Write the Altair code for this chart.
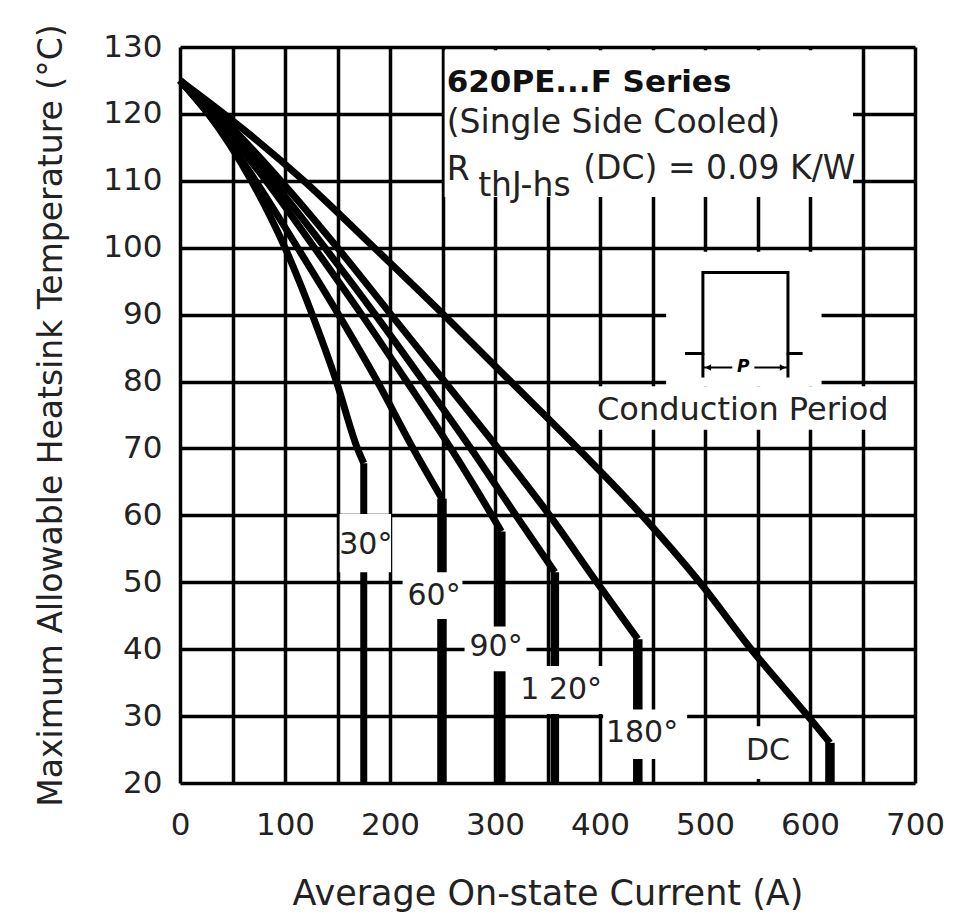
import altair as alt
import pandas as pd

# ---------------- data ----------------
series_names = ["30°", "60°", "90°", "120°", "180°", "DC"]

current_30 = [0, 27, 68, 100, 126, 149, 169, 175, 175]
temp_30 = [125, 120, 110, 100, 90, 80, 70, 67.8, 20]

current_60 = [0, 27, 72, 112, 151, 188, 222, 249.5, 249.5]
temp_60 = [125, 120, 110, 100, 90, 80, 70, 62.5, 20]

current_90 = [0, 30, 82, 128, 173, 216, 258, 297, 306, 306]
temp_90 = [125, 120, 110, 100, 90, 80, 70, 60, 57.6, 20]

current_120 = [0, 32, 88, 138, 186, 232, 277, 320, 357, 357]
temp_120 = [125, 120, 110, 100, 90, 80, 70, 60, 51.5, 20]

current_180 = [0, 36, 96, 150, 201, 252, 303, 352, 397, 436, 436]
temp_180 = [125, 120, 110, 100, 90, 80, 70, 60, 50, 41.5, 20]

current_dc = [0, 42, 118, 185, 251, 315, 379, 440, 495, 544, 598, 619, 619]
temp_dc = [125, 120, 110, 100, 90, 80, 70, 60, 50, 40, 30, 26, 20]

x_ticks = list(range(0, 701, 50))
y_ticks = list(range(20, 131, 10))

# ---------------- tables ----------------
all_current = [current_30, current_60, current_90, current_120, current_180, current_dc]
all_temp = [temp_30, temp_60, temp_90, temp_120, temp_180, temp_dc]

rows = []
for name, cur, tmp in zip(series_names, all_current, all_temp):
    # sloped part of each curve (the vertical drop is drawn as a rule below)
    for i, (c, t) in enumerate(zip(cur[:-1], tmp[:-1])):
        rows.append({"I": c, "T": t, "series": name, "idx": i})
curves = pd.DataFrame(rows)

ends = pd.DataFrame({
    "series": series_names,
    "I": [c[-1] for c in all_current],
    "T1": [t[-2] for t in all_temp],
    "T2": [t[-1] for t in all_temp],
    "w": [7, 9.5, 8.5, 8.5, 9.5, 9.5],
})

# white label backgrounds (annotation layout)
boxes = pd.DataFrame([
    {"x1": 252, "x2": 641, "y1": 107.6, "y2": 129.5},   # title block
    {"x1": 463, "x2": 611, "y1": 79.3, "y2": 99.4},     # pulse sketch
    {"x1": 390, "x2": 690, "y1": 72.8, "y2": 79.3},     # "Conduction Period"
    {"x1": 152, "x2": 201, "y1": 51.5, "y2": 60.2},     # 30°
    {"x1": 212, "x2": 269, "y1": 44.5, "y2": 51.5},     # 60°
    {"x1": 271, "x2": 330, "y1": 36.7, "y2": 43.4},     # 90°
    {"x1": 322, "x2": 405, "y1": 30.3, "y2": 37.5},     # 120°
    {"x1": 403, "x2": 483, "y1": 23.6, "y2": 31.0},     # 180°
    {"x1": 530, "x2": 590, "y1": 20.6, "y2": 28.5},     # DC
])

angle_labels = pd.DataFrame([
    {"x": 177, "y": 55.5, "text": "30°"},
    {"x": 242, "y": 47.9, "text": "60°"},
    {"x": 301, "y": 40.3, "text": "90°"},
    {"x": 363, "y": 33.9, "text": "1 20°"},
    {"x": 440, "y": 27.4, "text": "180°"},
    {"x": 560, "y": 24.8, "text": "DC"},
])

pulse = pd.DataFrame({
    "x": [481, 498, 498, 579, 579, 593],
    "y": [84.2, 84.2, 96.3, 96.3, 84.2, 84.2],
    "idx": list(range(6)),
})
pulse_ticks = pd.DataFrame({"x": [498, 579], "y1": [84.2, 84.2], "y2": [80.6, 80.6]})
dim_line = pd.DataFrame({"x1": [499, 547], "x2": [526, 578], "y": [82.1, 82.1]})
arrows = pd.DataFrame({"x": [503, 574], "y": [82.1, 82.1], "shape": ["triangle-left", "triangle-right"]})

FONT = "DejaVu Sans"
INK = "#222222"

x_scale = alt.Scale(domain=[0, 700], nice=False, zero=False)
y_scale = alt.Scale(domain=[20, 130], nice=False, zero=False)

x_axis = alt.Axis(
    values=x_ticks,
    labelExpr="datum.value % 100 == 0 ? datum.label : ''",
    grid=True, gridColor="black", gridWidth=3.5, gridOpacity=1,
    ticks=False, domain=False, labelOverlap=False, labelFlush=False,
    labelFont=FONT, labelFontSize=31, labelColor=INK, labelPadding=27,
    title="Average On-state Current (A)", titleFont=FONT, titleFontSize=35,
    titleFontWeight="normal", titleColor=INK, titlePadding=36,
)
y_axis = alt.Axis(
    values=y_ticks,
    grid=True, gridColor="black", gridWidth=3.5, gridOpacity=1,
    ticks=False, domain=False, labelOverlap=False, labelFlush=False,
    labelFont=FONT, labelFontSize=31, labelColor=INK, labelPadding=18,
    title="Maximum Allowable Heatsink Temperature (°C)", titleFont=FONT,
    titleFontSize=33, titleFontWeight="normal", titleColor=INK, titlePadding=34,
)

base_lines = alt.Chart(curves).mark_line(
    color="black", strokeWidth=7, strokeJoin="round", interpolate="monotone"
).encode(
    x=alt.X("I:Q", scale=x_scale, axis=x_axis),
    y=alt.Y("T:Q", scale=y_scale, axis=y_axis),
    detail="series:N",
    order=alt.Order("idx:Q"),
)

end_rules = alt.Chart(ends).mark_rule(color="black").encode(
    x="I:Q", y="T1:Q", y2="T2:Q",
    strokeWidth=alt.StrokeWidth("w:Q", scale=None),
)

box_layer = alt.Chart(boxes).mark_rect(fill="white").encode(
    x="x1:Q", x2="x2", y="y1:Q", y2="y2",
)

label_layer = alt.Chart(angle_labels).mark_text(
    font=FONT, fontSize=30, color=INK, align="center", baseline="middle"
).encode(x="x:Q", y="y:Q", text="text:N")

title_bold = alt.Chart(pd.DataFrame({"x": [254], "y": [124.6], "t": ["620PE...F Series"]})).mark_text(
    font=FONT, fontSize=31, fontWeight="bold", color="#111111", align="left", baseline="middle"
).encode(x="x:Q", y="y:Q", text="t:N")

title_lines = alt.Chart(pd.DataFrame({
    "x": [254, 254, 384],
    "y": [118.6, 111.6, 111.7],
    "t": ["(Single Side Cooled)", "R", "(DC) = 0.09 K/W"],
})).mark_text(font=FONT, fontSize=33, color=INK, align="left", baseline="middle").encode(
    x="x:Q", y="y:Q", text="t:N")

subscript = alt.Chart(pd.DataFrame({"x": [328], "y": [109.2], "t": ["thJ-hs"]})).mark_text(
    font=FONT, fontSize=33, color=INK, align="center", baseline="middle"
).encode(x="x:Q", y="y:Q", text="t:N")

cond_text = alt.Chart(pd.DataFrame({"x": [536], "y": [75.8], "t": ["Conduction Period"]})).mark_text(
    font=FONT, fontSize=32, color=INK, align="center", baseline="middle"
).encode(x="x:Q", y="y:Q", text="t:N")

pulse_line = alt.Chart(pulse).mark_line(color="black", strokeWidth=3).encode(
    x="x:Q", y="y:Q", order=alt.Order("idx:Q"))
pulse_rules = alt.Chart(pulse_ticks).mark_rule(color="black", strokeWidth=3).encode(
    x="x:Q", y="y1:Q", y2="y2")
dim_rules = alt.Chart(dim_line).mark_rule(color="black", strokeWidth=2).encode(
    x="x1:Q", x2="x2", y="y:Q")
arrow_marks = alt.Chart(arrows).mark_point(filled=True, color="black", size=45, opacity=1).encode(
    x="x:Q", y="y:Q", shape=alt.Shape("shape:N", scale=None))
p_text = alt.Chart(pd.DataFrame({"x": [536.5], "y": [82.2], "t": ["P"]})).mark_text(
    font=FONT, fontSize=17, fontWeight="bold", fontStyle="italic", color="black",
    align="center", baseline="middle").encode(x="x:Q", y="y:Q", text="t:N")

chart = alt.layer(
    base_lines, end_rules, box_layer, label_layer, title_bold, title_lines, subscript,
    cond_text, pulse_line, pulse_rules, dim_rules, arrow_marks, p_text,
).properties(
    width=735, height=736,
    autosize=alt.AutoSizeParams(type="none"),
    padding={"left": 172, "top": 39, "right": 30, "bottom": 136},
).configure_view(
    stroke="black", strokeWidth=4.5,
).configure(background="white")

chart.save("out.html", embed_options={"renderer": "svg", "actions": False})
